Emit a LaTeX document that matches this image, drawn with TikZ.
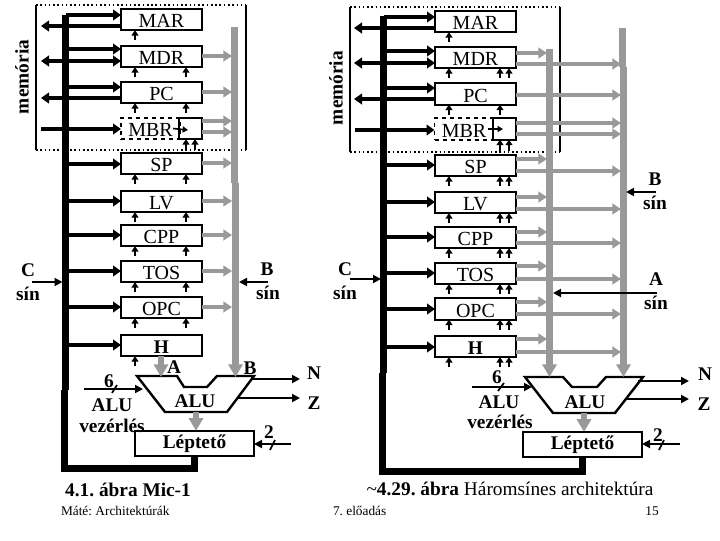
\documentclass[tikz,border=0pt]{standalone}
\usepackage{fontspec}
\setmainfont{Liberation Serif}
\usetikzlibrary{arrows.meta, positioning}
\definecolor{busgray}{HTML}{999999}
\frenchspacing

\begin{document}
\begin{tikzpicture}[
    x=0.75pt, y=-0.75pt,
    every node/.style={font=\fontsize{14.5}{16}\selectfont\bfseries, inner sep=0pt, outer sep=0pt},
    regbox/.style={draw, line width=1.6pt, minimum width=60.75pt, minimum height=16pt, text height=12.5pt, text depth=0pt, font=\fontsize{15}{16}\selectfont},
    hregbox/.style={regbox, font=\fontsize{14.5}{16}\selectfont\bfseries},
    dashbox/.style={draw, dashed, line width=1.3pt, minimum height=16pt, minimum width=44.25pt, text height=12.5pt, text depth=0pt, font=\fontsize{15}{16}\selectfont},
    smallbox/.style={draw, line width=1.6pt, minimum width=17.25pt, minimum height=16pt},
    shiftbox/.style={draw, line width=1.6pt, minimum width=89.25pt, minimum height=19pt, font=\fontsize{14.5}{16}\selectfont\bfseries},
    cbus/.style={line width=5.25pt},
    cin/.style={line width=3pt, -{Triangle[length=6pt,width=8pt]}},
    cboth/.style={line width=3pt, {Triangle[length=6pt,width=8pt]}-{Triangle[length=6pt,width=8pt]}},
    gbus/.style={line width=5.25pt, busgray},
    gout/.style={line width=3pt, busgray, -{Triangle[length=6.5pt,width=8pt]}},
    gin/.style={line width=5pt, busgray, -{Triangle[length=9.5pt,width=10.5pt]}},
    ctrl/.style={line width=1.4pt, -{Triangle[length=4pt,width=5pt]}},
    wire/.style={line width=1.4pt, -{Triangle[length=6pt,width=6pt]}},
    footer/.style={font=\fontsize{10}{12}\selectfont},
]
\useasboundingbox (0,0) rectangle (720,540);
\fill[white] (0,0) rectangle (720,540);
% ---- left: Mic-1 ----
% memory frame
\draw[line width=1pt] (36,5) -- (36,150) (246,5) -- (246,150);
\draw[line width=1.2pt, dotted] (36,5) -- (246,5) (36,150) -- (246,150);
\node[rotate=90] (lmem) at (22,77) {memória};
% buses
\coordinate (lCtop) at (65.5,15);
\coordinate (lCmid) at (65.5,390);
\coordinate (lCup) at (64.5,390);
\coordinate (lCedge) at (62.5,282);
\coordinate (lBtop) at (234.5,27);
\coordinate (lBmid) at (234.5,183);
\coordinate (lBup) at (235.5,183);
\coordinate (lBin) at (235.5,377);
\coordinate (lAin) at (161,377);
\draw[gbus] (lBtop) -- (lBmid);
\draw[cbus] (lCtop) -- (lCmid);
% registers
\foreach \n/\yc in {MAR/19.5, MDR/56.5, PC/92.5, SP/163.5, LV/201.5, CPP/235.5, TOS/271.5, OPC/307.5}
    \node[regbox] (l\n) at (161.5,\yc) {\n};
\node[hregbox] (lH) at (161.5,345.5) {H};
\node[dashbox] (lMBR) at (150.5,128.5) {MBR};
\node[smallbox] (lMBRb) at (190.5,128.5) {};
\draw[line width=1.2pt, -{Triangle[length=4pt,width=4.5pt]}] (lMBR.center -| 173,0) -- (188,130);
% C bus to registers
\foreach \n/\y in {MAR/15, MDR/49, PC/87, SP/164, LV/201, CPP/235, TOS/271, OPC/307, H/345}
    \draw[cin] (lCtop |- 0,\y) -- (l\n.west |- 0,\y);
\coordinate (lmemin) at (41,129);
\draw[cin] (lmemin) -- (lMBR.west |- lmemin);
\coordinate (lmarout) at (41,26);
\coordinate (lmdrout) at (41,61);
\coordinate (lpcout) at (41,98);
\draw[cin] (lMAR.west |- lmarout) -- (lmarout);
\draw[cboth] (lmdrout) -- (lMDR.west |- lmdrout);
\draw[cin] (lPC.west |- lpcout) -- (lpcout);
% registers to B bus
\foreach \n/\y in {MDR/56, PC/92, SP/163, LV/201, CPP/235, TOS/271, OPC/307}
    \draw[gout] (l\n.east |- 0,\y) -- (232,\y);
\draw[gout] (lMBRb.east |- 0,121) -- (232,121);
\draw[gout] (lMBRb.east |- 0,132) -- (232,132);
% control arrows
\foreach \n in {MAR,MDR,PC,SP,LV,CPP,TOS,OPC,H}
    \draw[ctrl] ([shift={(-26.5,10)}]l\n.south) -- ([shift={(-26.5,0)}]l\n.south);
\foreach \n in {MDR,PC,SP,LV,CPP,TOS,OPC}
    \draw[ctrl] ([shift={(24.5,10)}]l\n.south) -- ([shift={(24.5,0)}]l\n.south);
\draw[ctrl] ([shift={(-4.5,11)}]lMBRb.south) -- ([shift={(-4.5,0)}]lMBRb.south);
\draw[ctrl] ([shift={(4.5,11)}]lMBRb.south) -- ([shift={(4.5,0)}]lMBRb.south);
% ALU
\draw[line width=1.8pt] (137,376) -- (177,376) -- (184,387) -- (207,387) -- (217,376) -- (254,376) -- (227,412) -- (165,412) -- cycle;
\node (lALU) at (195,401) {ALU};
\draw[gin] (lBup) -- (lBin);
\draw[gin] (lH.south -| lAin) -- (lAin);
\node (lA) at (174,367) {A};
\node (lB) at (250,368) {B};
% shifter and C bus return
\node[shiftbox] (lShift) at (194.5,443.5) {Léptető};
\coordinate (lALUb) at (196,412);
\draw[gin] (lALUb) -- (lShift.north -| lALUb);
\draw[cbus] (lCup) -- (64.5,468.5) -- (lShift.south |- 0,468.5) -- (lShift.south);
% ALU wires
\coordinate (lNa) at (251,379);
\coordinate (lZa) at (238,398);
\node (lN) at (314,373) {N};
\node (lZ) at (314,403) {Z};
\draw[wire] (lNa) -- (300,379);
\draw[wire] (lZa) -- (300,398);
\coordinate (lctl) at (84,389);
\draw[wire] (lctl) -- (143,389);
\draw[line width=1.3pt] (112,393) -- (117,385);
\node (lsix) at (109,381) {6};
\node (lctla) at (112,405) {ALU};
\node (lctlb) at (112,426) {vezérlés};
\coordinate (lsh) at (291,444);
\draw[wire] (lsh) -- (lShift.east |- lsh);
\draw[line width=1.3pt] (270,450) -- (275,440);
\node (ltwo) at (269,432) {2};
% bus labels
\node (lCl) at (28,270) {C};
\node (lCs) at (28,294) {sín};
\coordinate (lCa) at (32,282);
\draw[wire] (lCa) -- (lCedge);
\node (lBl) at (267,269) {B};
\node (lBs) at (268,293) {sín};
\coordinate (lBa) at (268,282);
\draw[wire] (lBa) -- (239,282);
\node (lcap) at (128,490) {4.1. ábra Mic-1};
\node[footer, anchor=west] (lfoot) at (61,511) {Máté: Architektúrák};

% ---- right: three bus architecture ----
% memory frame
\draw[line width=1pt] (350,7) -- (350,152) (560,7) -- (560,152);
\draw[line width=1.2pt, dotted] (350,7) -- (560,7) (350,152) -- (560,152);
\node[rotate=90] (rmem) at (336,88) {memória};
% buses
\coordinate (rCtop) at (383.5,16);
\coordinate (rCmid) at (383.5,373);
\coordinate (rCup) at (382.5,373);
\coordinate (rAtop) at (549.5,49);
\coordinate (rAin) at (549.5,377);
\coordinate (rBtop) at (622.5,28);
\coordinate (rBmid) at (622.5,67);
\coordinate (rBup) at (623.5,67);
\coordinate (rBin) at (623.5,377);
\draw[gbus] (rBtop) -- (rBmid);
\draw[cbus] (rCtop) -- (rCmid);
% registers
\foreach \n/\yc in {MAR/21.5, MDR/57.5, PC/94, SP/165.5, LV/202.5, CPP/237.5, TOS/273.5, OPC/309}
    \node[regbox] (r\n) at (475.5,\yc) {\n};
\node[hregbox] (rH) at (475.5,346.5) {H};
\node[dashbox] (rMBR) at (464,129) {MBR};
\node[smallbox] (rMBRb) at (504.5,129) {};
\draw[line width=1.2pt, -{Triangle[length=4pt,width=4.5pt]}] (rMBR.center -| 488,0) -- (503,129);
% C bus to registers
\foreach \n/\y in {MAR/17, MDR/51, PC/88, SP/165, LV/202, CPP/237, TOS/273, OPC/309, H/347}
    \draw[cin] (rCtop |- 0,\y) -- (r\n.west |- 0,\y);
\coordinate (rmemin) at (355,130);
\draw[cin] (rmemin) -- (rMBR.west |- rmemin);
\coordinate (rmarout) at (354,28);
\coordinate (rmdrout) at (354,63);
\coordinate (rpcout) at (354,99);
\draw[cin] (rMAR.west |- rmarout) -- (rmarout);
\draw[cboth] (rmdrout) -- (rMDR.west |- rmdrout);
\draw[cin] (rPC.west |- rpcout) -- (rpcout);
% registers to A and B buses
\foreach \n/\a/\b in {MDR/53/64, SP/159/171, LV/197/209, CPP/232/243, TOS/266/279, OPC/302/314, H/339/352} {
    \draw[gout] (r\n.east |- 0,\a) -- (547,\a);
    \draw[gout] (r\n.east |- 0,\b) -- (621,\b);
}
\draw[gout] (rPC.east |- 0,95) -- (621,95);
\draw[gout] (rMBRb.east |- 0,123) -- (621,123);
\draw[gout] (rMBRb.east |- 0,134) -- (621,134);
\draw[gbus] (rAtop) -- (rAin |- 0,365);
% control arrows
\foreach \n in {MAR,MDR,PC,SP,LV,CPP,TOS,OPC,H}
    \draw[ctrl] ([shift={(-26.5,10)}]r\n.south) -- ([shift={(-26.5,0)}]r\n.south);
\foreach \n in {MDR,PC,SP,LV,CPP,TOS,OPC,H}
    \draw[ctrl] ([shift={(24.5,10)}]r\n.south) -- ([shift={(24.5,0)}]r\n.south);
\foreach \n in {MDR,SP,LV,CPP,TOS,OPC,H}
    \draw[ctrl] ([shift={(33.5,10)}]r\n.south) -- ([shift={(33.5,0)}]r\n.south);
\draw[ctrl] ([shift={(-4.5,11)}]rMBRb.south) -- ([shift={(-4.5,0)}]rMBRb.south);
\draw[ctrl] ([shift={(4.5,11)}]rMBRb.south) -- ([shift={(4.5,0)}]rMBRb.south);
% ALU
\draw[line width=1.8pt] (525,377) -- (563,377) -- (572,387) -- (597,387) -- (606,377) -- (643,377) -- (615,413) -- (553,413) -- cycle;
\node (rALU) at (585,402) {ALU};
\draw[gbus] (rBup) -- (623.5,370);
\draw[gin] (rAtop |- 0,360) -- (rAin);
\draw[gin] (rBup |- 0,360) -- (rBin);
% shifter and C bus return
\node[shiftbox] (rShift) at (582.5,444.5) {Léptető};
\coordinate (rALUb) at (584,413);
\draw[gin] (rALUb) -- (rShift.north -| rALUb);
\draw[cbus] (rCup) -- (382.5,471) -- (rShift.south |- 0,471) -- (rShift.south);
% ALU wires
\coordinate (rNa) at (638,381);
\coordinate (rZa) at (625,399);
\node (rN) at (705,374) {N};
\node (rZ) at (704,404) {Z};
\draw[wire] (rNa) -- (689,381);
\draw[wire] (rZa) -- (689,399);
\coordinate (rctl) at (472,387);
\draw[wire] (rctl) -- (532,387);
\draw[line width=1.3pt] (498,391) -- (504,383);
\node (rsix) at (497,377) {6};
\node (rctla) at (499,402) {ALU};
\node (rctlb) at (500,422) {vezérlés};
\coordinate (rsh) at (680,444);
\draw[wire] (rsh) -- (rShift.east |- rsh);
\draw[line width=1.3pt] (659,450) -- (664,440);
\node (rtwo) at (658,435) {2};
% bus labels
\node (rCl) at (345,269) {C};
\node (rCs) at (345,293) {sín};
\coordinate (rCa) at (350,279);
\draw[wire] (rCa) -- (381,279);
\node (rBl) at (655,179) {B};
\node (rBs) at (655,203) {sín};
\coordinate (rBa) at (656,192);
\draw[wire] (rBa) -- (626,192);
\node (rAl) at (656,279) {A};
\node (rAs) at (656,303) {sín};
\coordinate (rAa) at (657,293);
\draw[wire] (rAa) -- (553,293);
\node (rcap) at (510,489) {\textmd{\textasciitilde}4.29. ábra \textmd{Háromsínes architektúra}};
\node[footer, anchor=west] (rfoot) at (333,511) {7. előadás};
\node[footer] (rpage) at (652,511) {15};
\end{tikzpicture}
\end{document}
